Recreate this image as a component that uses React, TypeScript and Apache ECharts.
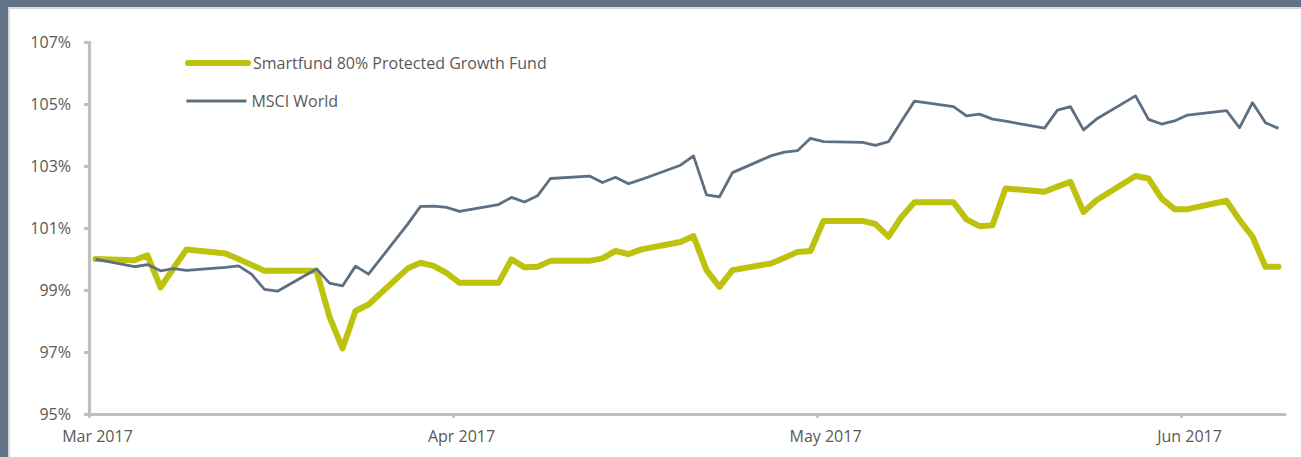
import React, { useEffect, useRef } from "react";
import * as echarts from "echarts";

// Business days, 31 Mar 2017 – 30 Jun 2017
const dates = [
  "2017-03-31",
  "2017-04-03", "2017-04-04", "2017-04-05", "2017-04-06", "2017-04-07",
  "2017-04-10", "2017-04-11", "2017-04-12", "2017-04-13", "2017-04-14",
  "2017-04-17", "2017-04-18", "2017-04-19", "2017-04-20", "2017-04-21",
  "2017-04-24", "2017-04-25", "2017-04-26", "2017-04-27", "2017-04-28",
  "2017-05-01", "2017-05-02", "2017-05-03", "2017-05-04", "2017-05-05",
  "2017-05-08", "2017-05-09", "2017-05-10", "2017-05-11", "2017-05-12",
  "2017-05-15", "2017-05-16", "2017-05-17", "2017-05-18", "2017-05-19",
  "2017-05-22", "2017-05-23", "2017-05-24", "2017-05-25", "2017-05-26",
  "2017-05-29", "2017-05-30", "2017-05-31", "2017-06-01", "2017-06-02",
  "2017-06-05", "2017-06-06", "2017-06-07", "2017-06-08", "2017-06-09",
  "2017-06-12", "2017-06-13", "2017-06-14", "2017-06-15", "2017-06-16",
  "2017-06-19", "2017-06-20", "2017-06-21", "2017-06-22", "2017-06-23",
  "2017-06-26", "2017-06-27", "2017-06-28", "2017-06-29", "2017-06-30",
];

const fundValues = [
  100.0,
  99.96, 100.12, 99.08, 99.7, 100.31,
  100.18, 100.0, 99.81, 99.62, 99.62,
  99.62, 98.13, 97.11, 98.32, 98.53,
  99.69, 99.88, 99.78, 99.55, 99.23,
  99.23, 99.99, 99.73, 99.75, 99.94,
  99.94, 100.02, 100.26, 100.16, 100.31,
  100.55, 100.74, 99.64, 99.1, 99.64,
  99.86, 100.04, 100.23, 100.26, 101.23,
  101.23, 101.13, 100.72, 101.36, 101.83,
  101.83, 101.28, 101.06, 101.09, 102.28,
  102.17, 102.34, 102.49, 101.52, 101.9,
  102.68, 102.6, 101.96, 101.61, 101.61,
  101.88, 101.26, 100.72, 99.75, 99.75,
];

const msciValues = [
  100.0,
  99.75, 99.82, 99.62, 99.69, 99.63,
  99.73, 99.78, 99.51, 99.02, 98.96,
  99.68, 99.22, 99.13, 99.77, 99.51,
  101.12, 101.7, 101.71, 101.67, 101.54,
  101.76, 101.99, 101.84, 102.04, 102.6,
  102.68, 102.47, 102.64, 102.43, 102.57,
  103.03, 103.33, 102.07, 102.01, 102.79,
  103.34, 103.45, 103.5, 103.9, 103.79,
  103.77, 103.67, 103.79, 104.45, 105.1,
  104.92, 104.62, 104.68, 104.52, 104.45,
  104.23, 104.81, 104.92, 104.17, 104.52,
  105.27, 104.51, 104.36, 104.46, 104.65,
  104.79, 104.24, 105.05, 104.4, 104.22,
];

const seriesNames = ["Smartfund 80% Protected Growth Fund", "MSCI World"];
const xTickDates = ["2017-03-31", "2017-04-28", "2017-05-26", "2017-06-23"];
const xRange = ["2017-03-31", "2017-07-01"];
const yTicks = [95, 97, 99, 101, 103, 105, 107];
const monthNames = ["Jan", "Feb", "Mar", "Apr", "May", "Jun", "Jul", "Aug", "Sep", "Oct", "Nov", "Dec"];

const FUND_COLOR = "#BDC20F";
const MSCI_COLOR = "#5F6F82";
const AXIS_COLOR = "#BFBFBF";
const TEXT_COLOR = "#595959";
const FONT = "'Open Sans', 'Noto Sans', sans-serif";

export default function App() {
  const ref = useRef<HTMLDivElement>(null);

  useEffect(() => {
    if (!ref.current) return;
    const chart = echarts.init(ref.current, null, { renderer: "svg" });
    const atNoon = (d: string) => Date.parse(d + "T12:00:00Z");
    const atMidnight = (d: string) => Date.parse(d + "T00:00:00Z");
    const tickVals = xTickDates.map(atMidnight);
    const labelVals = xTickDates.map(atNoon);

    const legendBase = {
      left: 185,
      padding: 0,
      orient: "vertical",
      itemWidth: 60,
      itemHeight: 14,
      itemGap: 0,
      selectedMode: false,
      itemStyle: { opacity: 0 },
      textStyle: { color: TEXT_COLOR, fontSize: 16, fontFamily: FONT },
    };

    chart.setOption({
      animation: false,
      grid: { left: 89, right: 16, top: 42.3, bottom: 43.2, outerBoundsMode: "none" },
      xAxis: {
        type: "value",
        min: atMidnight(xRange[0]),
        max: atMidnight(xRange[1]),
        axisLine: { show: true, lineStyle: { color: AXIS_COLOR, width: 3.2 } },
        axisTick: {
          show: true,
          customValues: tickVals,
          length: 4,
          lineStyle: { color: AXIS_COLOR, width: 3 },
        },
        axisLabel: {
          customValues: labelVals,
          formatter: (v: number) => {
            const d = new Date(v);
            return monthNames[d.getUTCMonth()] + " " + d.getUTCFullYear();
          },
          color: TEXT_COLOR,
          fontSize: 16,
          fontFamily: FONT,
          margin: 14,
          padding: [0, 0, 0, 4],
        },
        splitLine: { show: false },
      },
      yAxis: {
        type: "value",
        min: 95,
        max: 107,
        axisLine: { show: true, lineStyle: { color: AXIS_COLOR, width: 3.2 } },
        axisTick: {
          show: true,
          customValues: yTicks,
          length: 5,
          lineStyle: { color: AXIS_COLOR, width: 3 },
        },
        axisLabel: {
          customValues: yTicks,
          formatter: "{value}%",
          color: TEXT_COLOR,
          fontSize: 16,
          fontFamily: FONT,
          margin: 18,
        },
        splitLine: { show: false },
      },
      legend: [
        { ...legendBase, top: 55, data: [seriesNames[0]], lineStyle: { width: 6, cap: "round" } },
        { ...legendBase, top: 93, data: [seriesNames[1]], lineStyle: { width: 2.8 } },
      ],
      series: [
        {
          name: seriesNames[0],
          type: "line",
          symbol: "none",
          data: dates.map((d, i) => [atNoon(d), fundValues[i]]),
          lineStyle: { color: FUND_COLOR, width: 6, cap: "round", join: "round" },
          itemStyle: { color: FUND_COLOR },
          z: 2,
        },
        {
          name: seriesNames[1],
          type: "line",
          symbol: "none",
          data: dates.map((d, i) => [atNoon(d), msciValues[i]]),
          lineStyle: { color: MSCI_COLOR, width: 2.8, join: "round" },
          itemStyle: { color: MSCI_COLOR },
          z: 3,
        },
      ],
    });
    return () => chart.dispose();
  }, []);

  return (
    <div
      style={{
        position: "absolute",
        left: 0,
        top: 0,
        width: 1301,
        height: 457,
        background: "#637285",
        overflow: "hidden",
      }}
    >
      <div
        style={{
          position: "absolute",
          left: 8,
          top: 7,
          right: 0,
          bottom: 0,
          background: "#ffffff",
          borderLeft: "2px solid #d6dadf",
          borderTop: "2px solid #d6dadf",
        }}
      />
      <div ref={ref} style={{ position: "absolute", left: 0, top: 0, width: 1301, height: 457 }} />
    </div>
  );
}
